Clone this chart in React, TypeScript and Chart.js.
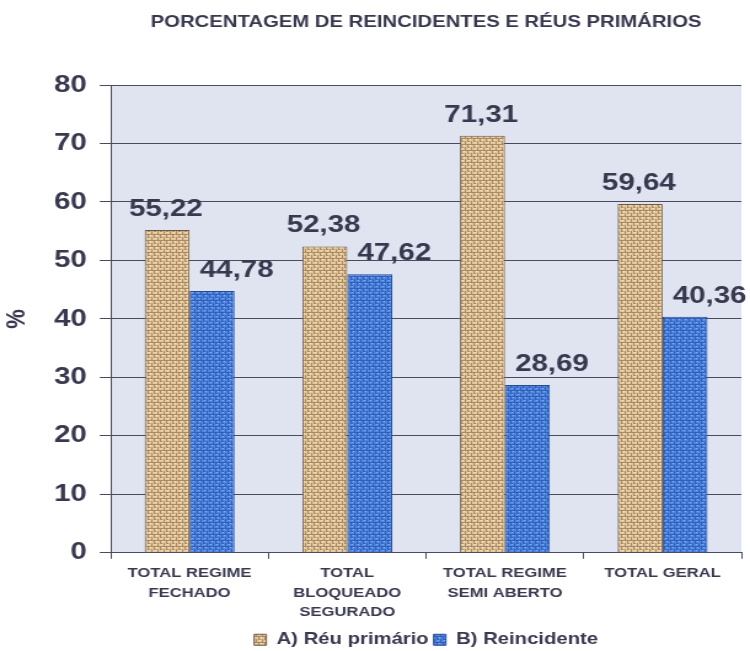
import React, { useEffect, useRef } from "react";
import { Chart, registerables } from "chart.js";

Chart.register(...registerables);

const categories: string[][] = [
  ["TOTAL REGIME", "FECHADO"],
  ["TOTAL", "BLOQUEADO", "SEGURADO"],
  ["TOTAL REGIME", "SEMI ABERTO"],
  ["TOTAL GERAL"],
];
const reuPrimario = [55.22, 52.38, 71.31, 59.64];
const reincidente = [44.78, 47.62, 28.69, 40.36];
const seriesNames = ["A) Réu primário", "B) Reincidente"];
const chartTitle = "PORCENTAGEM DE REINCIDENTES E RÉUS PRIMÁRIOS";

const TEXT = "#38384f";
const FONT = "Arial, 'Liberation Sans', sans-serif";
// the reference lettering is stretched horizontally; the canvas is drawn narrower and scaled to 750px
const INNER_W = 610;

function makePattern(base: string, line: string, light: string) {
  const c = document.createElement("canvas");
  c.width = 5;
  c.height = 6;
  const g = c.getContext("2d")!;
  g.fillStyle = base;
  g.fillRect(0, 0, 5, 6);
  g.fillStyle = line;
  g.fillRect(0, 0, 5, 1);
  g.fillRect(0, 3, 2, 1);
  g.fillRect(0, 0, 1, 3);
  g.fillRect(3, 3, 1, 3);
  g.fillStyle = light;
  g.fillRect(2, 1, 1, 1);
  g.fillRect(1, 4, 1, 1);
  return g.createPattern(c, "repeat")!;
}

const bgPlugin = {
  id: "plotBg",
  beforeDraw(chart: any) {
    const { ctx, chartArea } = chart;
    ctx.save();
    ctx.fillStyle = "#dfe4f0";
    ctx.fillRect(chartArea.left, chartArea.top, chartArea.right - chartArea.left, chartArea.bottom - chartArea.top);
    ctx.restore();
  },
};

// title centred over the plot area, as in the reference
const titlePlugin = {
  id: "plotTitle",
  afterDraw(chart: any) {
    const { ctx, chartArea } = chart;
    ctx.save();
    ctx.font = `bold 16.5px ${FONT}`;
    ctx.fillStyle = TEXT;
    ctx.textAlign = "center";
    ctx.textBaseline = "alphabetic";
    ctx.fillText(chartTitle, (chartArea.left + chartArea.right) / 2, 27);
    ctx.restore();
  },
};

const labelPlugin = {
  id: "valLabels",
  afterDatasetsDraw(chart: any) {
    const { ctx } = chart;
    ctx.save();
    ctx.font = `bold 24px ${FONT}`;
    ctx.fillStyle = TEXT;
    ctx.textAlign = "center";
    ctx.textBaseline = "alphabetic";
    chart.data.datasets.forEach((ds: any, di: number) => {
      const meta = chart.getDatasetMeta(di);
      meta.data.forEach((bar: any, i: number) => {
        const v = ds.data[i];
        const dx = di === 1 ? 20 : -1;
        ctx.fillText(v.toFixed(2).replace(".", ","), bar.x + dx, bar.y - 14);
      });
    });
    ctx.restore();
  },
};

export default function App() {
  const ref = useRef<HTMLCanvasElement>(null);
  useEffect(() => {
    const beige = makePattern("#e2c89c", "#ab8a62", "#f4e6cc");
    const blue = makePattern("#4f86e0", "#2f60bb", "#8cb2ee");
    const chart = new Chart(ref.current!, {
      type: "bar",
      data: {
        labels: categories,
        datasets: [
          { label: seriesNames[0], data: reuPrimario, backgroundColor: beige, borderColor: "#6e5a44", borderWidth: 1 },
          { label: seriesNames[1], data: reincidente, backgroundColor: blue, borderColor: "#2a4a8e", borderWidth: 1 },
        ],
      },
      options: {
        animation: false,
        responsive: false,
        devicePixelRatio: 1,
        layout: { padding: { left: 1, right: 7, top: 85, bottom: -7 } },
        datasets: { bar: { categoryPercentage: 0.57, barPercentage: 1 } } as any,
        plugins: {
          title: { display: false },
          legend: {
            position: "bottom",
            fullSize: false,
            labels: {
              color: TEXT,
              font: { family: FONT, size: 16.5, weight: "bold" },
              boxWidth: 10,
              boxHeight: 11,
              padding: 4,
            },
          },
          tooltip: { enabled: false },
        },
        scales: {
          x: {
            grid: { display: true, drawOnChartArea: false, offset: true, color: "#4b4b5e", tickLength: 6 },
            border: { color: "#4b4b5e" },
            ticks: {
              color: TEXT,
              font: { family: FONT, size: 13.5, weight: "bold", lineHeight: 1.45 },
              padding: 5,
              maxRotation: 0,
            },
          },
          y: {
            min: 0,
            max: 80,
            title: {
              display: true,
              text: "%",
              color: TEXT,
              font: { family: FONT, size: 22, weight: "bold" },
              padding: { top: 0, bottom: 6 },
            },
            grid: { color: "#4b4b5e", tickLength: 9 },
            border: { color: "#4b4b5e" },
            ticks: {
              stepSize: 10,
              color: TEXT,
              font: { family: FONT, size: 24, weight: "bold" },
              padding: 10.5,
            },
          },
        },
      },
      plugins: [bgPlugin, labelPlugin, titlePlugin],
    });
    return () => chart.destroy();
  }, []);
  return (
    <div style={{ position: "fixed", left: 0, top: 0, width: 750, height: 651, background: "#fff" }}>
      <canvas ref={ref} width={INNER_W} height={651} style={{ width: "750px", height: "651px", display: "block" }} />
    </div>
  );
}
